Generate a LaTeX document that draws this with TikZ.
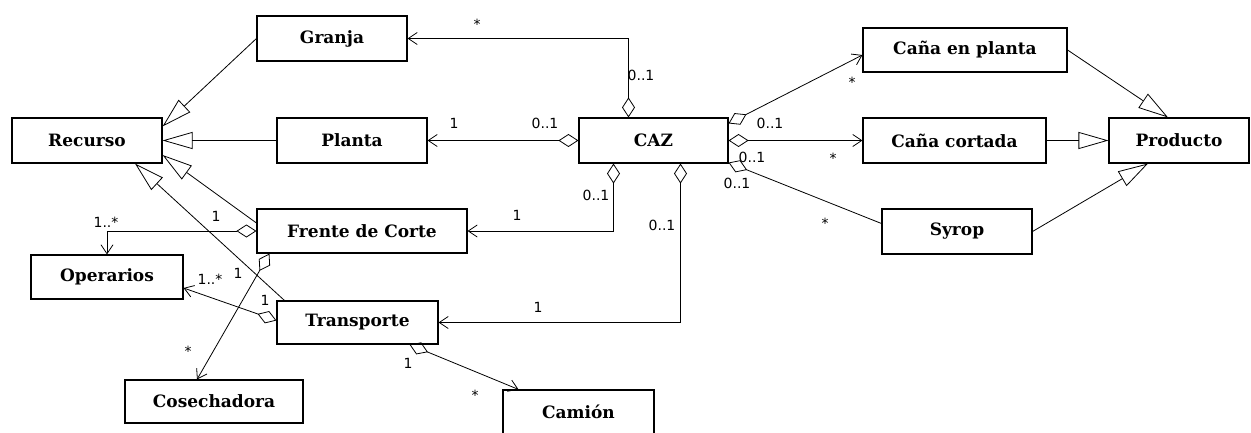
\documentclass[tikz,border=0pt]{standalone}
\usepackage{fontspec}
\newfontfamily\boxfont{DejaVu Serif}
\newfontfamily\multfont{DejaVu Sans}
\usetikzlibrary{arrows.meta}

\begin{document}
\begin{tikzpicture}[
  x=1pt,y=-1pt,
  cls/.style={draw,line width=1.1pt,minimum height=45pt,inner sep=0pt,
              font=\boxfont\bfseries\fontsize{17}{17}\selectfont},
  gen/.style={-{Triangle[open,length=30pt,width=17pt]},line width=0.8pt},
  agg/.style={{Diamond[open,length=20pt,width=13pt]}-,line width=0.8pt},
  aggto/.style={{Diamond[open,length=20pt,width=13pt]}-{Straight Barb[length=9pt,width=12pt]},
                line width=0.8pt},
  mult/.style={font=\multfont\fontsize{14}{14}\selectfont,inner sep=0pt}
]
\useasboundingbox (0,0) rectangle (1251,433);
% clases
\node[cls,minimum width=150pt] (granja) at (332,38.5) {Granja};
\node[cls,minimum width=150pt] (recurso) at (87,140.5) {Recurso};
\node[cls,minimum width=150pt] (planta) at (352,140.5) {Planta};
\node[cls,minimum width=149pt] (caz) at (653.5,140.5) {CAZ};
\node[cls,minimum width=204pt,minimum height=44pt] (cenp) at (965,50) {Caña en planta};
\node[cls,minimum width=183pt] (ccor) at (954.5,140.5) {Caña cortada};
\node[cls,minimum width=140pt] (producto) at (1179,140.5) {Producto};
\node[cls,minimum width=150pt] (syrop) at (957,231.5) {Syrop};
\node[cls,minimum width=210pt,minimum height=44pt] (frente) at (362,231) {Frente de Corte};
\node[cls,minimum width=152pt,minimum height=44pt] (operarios) at (107,277) {Operarios};
\node[cls,minimum width=161pt,minimum height=43pt] (transporte) at (357.5,322.5) {Transporte};
\node[cls,minimum width=178pt,minimum height=43pt] (cosechadora) at (214,401.5) {Cosechadora};
\node[cls,minimum width=151pt,minimum height=44pt] (camion) at (578.5,412) {Camión};
% herencia
\draw[gen] (granja.west) -- ([yshift=-9pt]recurso.north east);
\draw[gen] (planta.west) -- (recurso.east);
\draw[gen] ([yshift=8pt]frente.west) -- ([yshift=-14.5pt]recurso.east);
\draw[gen] ([xshift=8pt]transporte.north west) -- ([xshift=48pt]recurso.south);
\draw[gen] (cenp.east) -- ([xshift=-11pt]producto.north);
\draw[gen] (ccor.east) -- (producto.west);
\draw[gen] (syrop.east) -- ([xshift=-31pt]producto.south);
% agregaciones
\draw[aggto] ([xshift=-25pt]caz.north) |- (granja.east);
\draw[aggto] (caz.west) -- (planta.east);
\draw[aggto] ([xshift=-40pt]caz.south) |- (frente.east);
\draw[aggto] ([xshift=27pt]caz.south) |- (transporte.east);
\draw[aggto] ([yshift=-6pt]caz.north east) -- ([yshift=-5pt]cenp.west);
\draw[aggto] (caz.east) -- (ccor.west);
\draw[agg] ([yshift=1pt]caz.south east) -- ([yshift=8pt]syrop.west);
\draw[aggto] (frente.west) -| (operarios.north);
\draw[aggto] ([xshift=13pt]frente.south west) -- ([xshift=-17pt]cosechadora.north);
\draw[aggto] ([yshift=2pt]transporte.west) -- ([yshift=-11pt]operarios.east);
\draw[aggto] ([xshift=52pt]transporte.south) -- ([xshift=-60pt]camion.north);
% multiplicidades
\node[mult] (m1) at (477,24) {*};
\node[mult] (m2) at (641,75) {0..1};
\node[mult] (m3) at (454,123) {1};
\node[mult] (m4) at (545,123) {0..1};
\node[mult] (m5) at (596,195) {0..1};
\node[mult] (m6) at (517,215) {1};
\node[mult] (m7) at (662,225) {0..1};
\node[mult] (m8) at (538,307) {1};
\node[mult] (m9) at (770,123) {0..1};
\node[mult] (m10) at (752,157) {0..1};
\node[mult] (m11) at (737,183) {0..1};
\node[mult] (m12) at (852,82) {*};
\node[mult] (m13) at (833,158) {*};
\node[mult] (m14) at (825,223) {*};
\node[mult] (m15) at (106,222) {1..*};
\node[mult] (m16) at (216,216) {1};
\node[mult] (m17) at (210,279) {1..*};
\node[mult] (m18) at (238,273) {1};
\node[mult] (m19) at (265,300) {1};
\node[mult] (m20) at (188,351) {*};
\node[mult] (m21) at (408,363) {1};
\node[mult] (m22) at (475,395) {*};
\end{tikzpicture}
\end{document}
